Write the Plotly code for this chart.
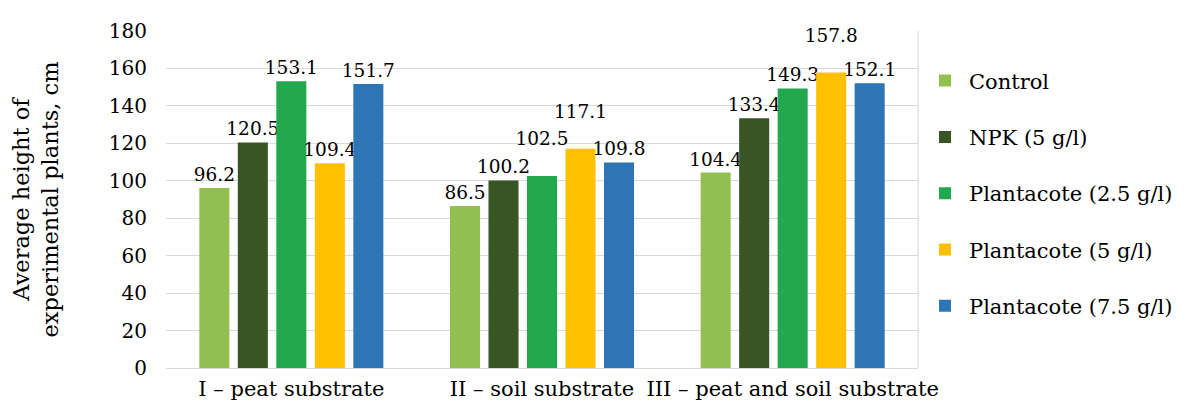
import plotly.graph_objects as go

categories = ["I – peat substrate", "II – soil substrate", "III – peat and soil substrate"]
series_names = ["Control", "NPK (5 g/l)", "Plantacote (2.5 g/l)", "Plantacote (5 g/l)", "Plantacote (7.5 g/l)"]
control = [96.2, 86.5, 104.4]
npk = [120.5, 100.2, 133.4]
plant_25 = [153.1, 102.5, 149.3]
plant_5 = [109.4, 117.1, 157.8]
plant_75 = [151.7, 109.8, 152.1]
colors = ["#92C050", "#375623", "#23A84F", "#FFC000", "#2E75B6"]
# labels lifted by one line in the reference to avoid crowding
raised = {("Plantacote (5 g/l)", 2), ("Plantacote (5 g/l)", 1), ("Plantacote (2.5 g/l)", 1)}

FONT = "DejaVu Serif"
fig = go.Figure()
for name, vals, col in zip(series_names, [control, npk, plant_25, plant_5, plant_75], colors):
    texts = []
    for i, v in enumerate(vals):
        t = f"{v:.1f}"
        if (name, i) in raised:
            t = t + "<br> "
        texts.append(t)
    fig.add_trace(go.Bar(
        x=categories, y=vals, name=name, legendgroup=name,
        marker=dict(color=col, line=dict(width=0)),
        text=texts, textposition="outside",
        textfont=dict(family=FONT, size=18.5, color="#000"),
        constraintext="none", cliponaxis=False,
    ))

fig.update_layout(
    width=1195, height=406,
    margin=dict(l=158, r=285, t=23, b=46, autoexpand=False),
    paper_bgcolor="white", plot_bgcolor="white",
    barmode="group", bargap=0.232, bargroupgap=0.22,
    font=dict(family=FONT, size=21, color="#000"),
    showlegend=True,
    legend=dict(x=1.004, y=0.518, xanchor="left", yanchor="middle",
                font=dict(family=FONT, size=21, color="#000"),
                tracegroupgap=26, itemwidth=38),
    xaxis=dict(showline=False, ticks="", tickangle=0, automargin=False,
               ticklabelstandoff=6, tickfont=dict(size=21)),
    yaxis=dict(range=[0, 180], dtick=20, showgrid=True, gridcolor="#D9D9D9",
               gridwidth=1, zeroline=True, zerolinecolor="#D9D9D9", zerolinewidth=1,
               showline=False, ticks="", automargin=False, ticklabelstandoff=18,
               tickfont=dict(size=20),
               title=dict(text="Average height of<br>experimental plants, cm",
                          font=dict(size=22.5), standoff=44)),
    shapes=[dict(type="line", xref="paper", yref="paper", x0=1, x1=1, y0=0, y1=1,
                 line=dict(color="#D9D9D9", width=1))],
)

fig.write_html("out.html")
